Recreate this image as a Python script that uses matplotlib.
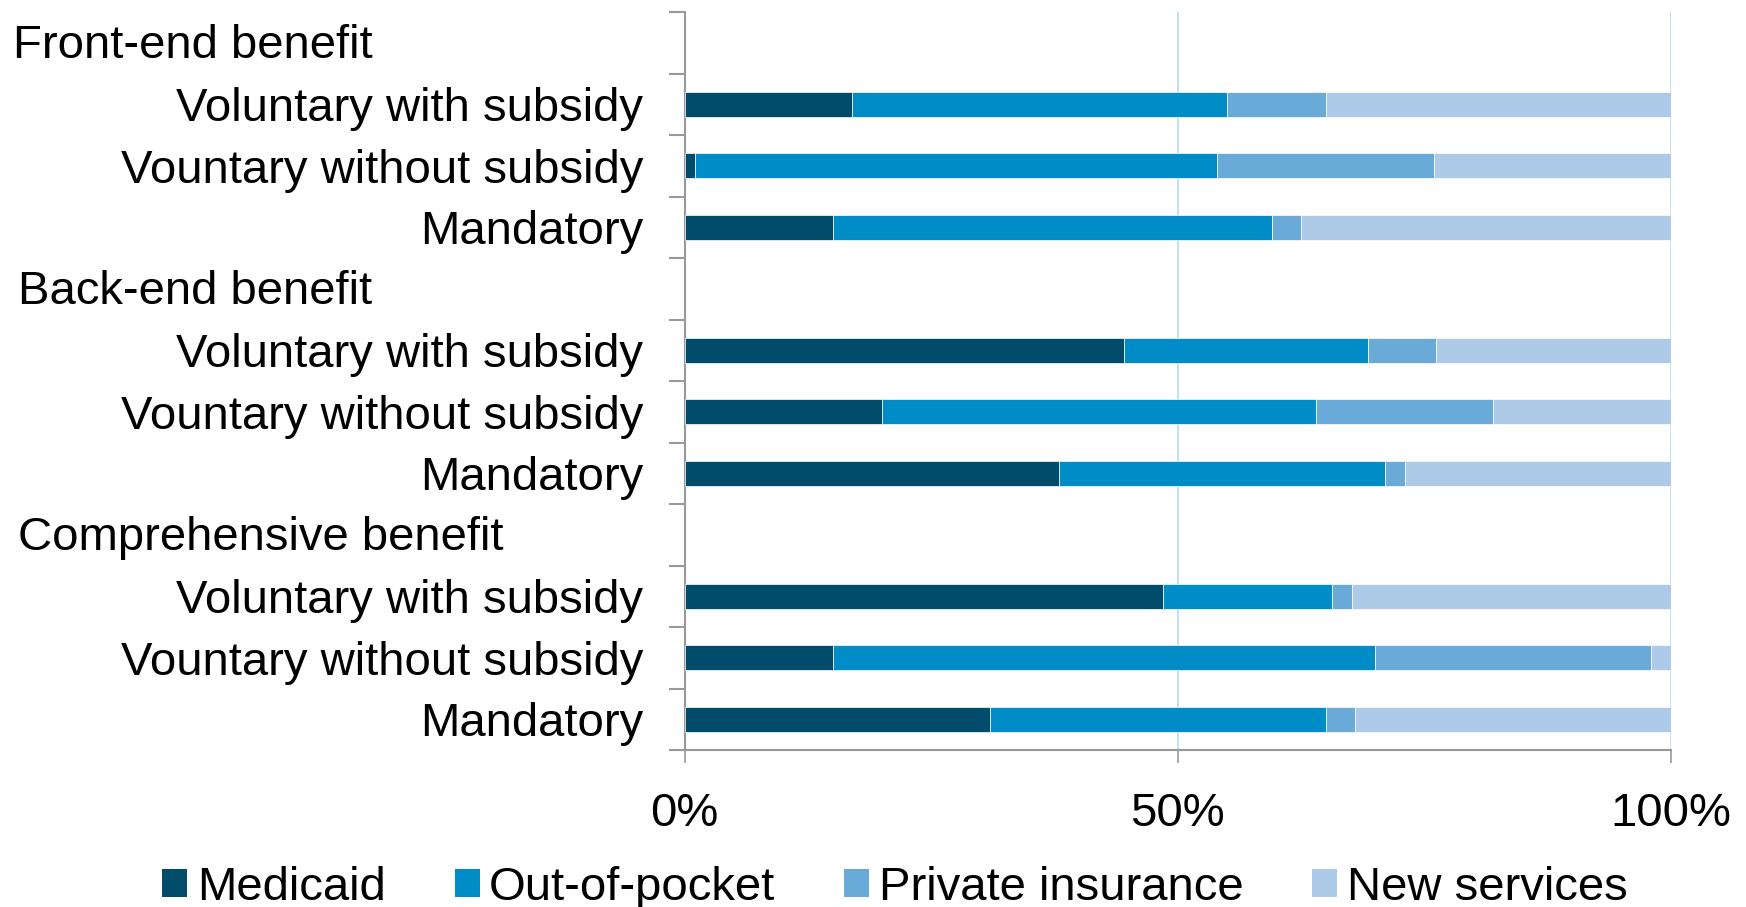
import matplotlib
matplotlib.use("Agg")
import matplotlib.pyplot as plt
from matplotlib.patches import Patch
from matplotlib.transforms import blended_transform_factory
import numpy as np

plt.rcParams['font.family'] = ['Liberation Sans', 'DejaVu Sans']

groups = ['Front-end benefit', 'Back-end benefit', 'Comprehensive benefit']
options = ['Voluntary with subsidy', 'Vountary without subsidy', 'Mandatory']
series_names = ['Medicaid', 'Out-of-pocket', 'Private insurance', 'New services']
medicaid = [17.0, 1.0, 15.0, 44.5, 20.0, 38.0, 48.5, 15.0, 31.0]
out_of_pocket = [38.0, 53.0, 44.5, 24.8, 44.0, 33.0, 17.1, 55.0, 34.0]
private_ins = [10.0, 22.0, 3.0, 6.9, 18.0, 2.0, 2.1, 28.0, 3.0]
new_services = [35.0, 24.0, 37.5, 23.8, 18.0, 27.0, 32.3, 2.0, 32.0]
x_ticks = [0, 50, 100]
x_tick_labels = ['0%', '50%', '100%']

colors = ['#014c6a', '#008cc6', '#6aaad8', '#adcbe8']

fig = plt.figure(figsize=(17.46, 9.07), dpi=100)
ax = fig.add_axes([684.7 / 1746, 1 - 750 / 907, (1671 - 684.7) / 1746, (750 - 12) / 907])

# row positions: each group has a header slot followed by its options
bar_pos = []
header_pos = []
labels = []
slot = 0
for g in groups:
    header_pos.append(slot)
    slot += 1
    for o in options:
        bar_pos.append(slot)
        labels.append(o)
        slot += 1
n_slots = slot
bar_pos = np.array(bar_pos)

data = [medicaid, out_of_pocket, private_ins, new_services]
left = np.zeros(len(bar_pos))
for vals, c, name in zip(data, colors, series_names):
    vals = np.array(vals)
    ax.barh(bar_pos, vals, left=left, height=0.4, color=c, edgecolor='white',
            linewidth=0.5, label=name, zorder=3)
    left += vals

ax.set_xlim(0, 100)
ax.set_ylim(n_slots - 0.5, -0.5)

ax.set_xticks(x_ticks)
ax.set_xticklabels(x_tick_labels, fontsize=34)
ax.tick_params(axis='x', direction='out', length=9.5, width=1.2, color='#999999', pad=21)

ax.set_yticks(bar_pos)
ax.set_yticklabels(labels, fontsize=34)
ax.set_yticks(np.arange(n_slots + 1) - 0.5, minor=True)
ax.tick_params(axis='y', which='major', length=0, pad=30)
ax.tick_params(axis='y', which='minor', direction='out', length=11.5, width=1.5, color='#999999')

for x in [50, 100]:
    ax.axvline(x, color='#b9e0ef', linewidth=1.3, zorder=1)

for s in ['top', 'right']:
    ax.spines[s].set_visible(False)
for s in ['left', 'bottom']:
    ax.spines[s].set_color('#999999')
    ax.spines[s].set_linewidth(1.5)

trans = blended_transform_factory(fig.transFigure, ax.transData)
header_x = [13 / 1746, 18 / 1746, 18 / 1746]
for g, p, hx in zip(groups, header_pos, header_x):
    ax.text(hx, p + 0.06, g, transform=trans, ha='left', va='center', fontsize=34)

handles = [Patch(facecolor=c, edgecolor='none') for c in colors]
fig.legend(handles, series_names, loc='center', bbox_to_anchor=(0.5126, 1 - 888 / 907),
           ncol=4, frameon=False, fontsize=34, handlelength=0.53, handleheight=0.53,
           handletextpad=0.2, columnspacing=1.46, borderaxespad=0, borderpad=0)

fig.savefig('out.png', dpi=100)
